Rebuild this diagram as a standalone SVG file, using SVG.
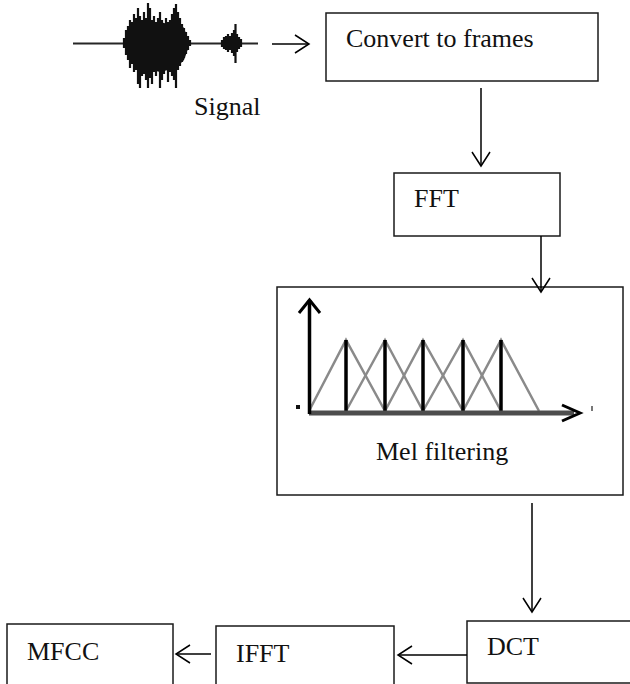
<svg xmlns="http://www.w3.org/2000/svg" width="630" height="684" viewBox="0 0 630 684">
  <defs>
    <style>
      .box { fill: #ffffff; stroke: #1a1a1a; stroke-width: 1.5; }
      .lbl { font-family: "Liberation Serif", "Times New Roman", serif; font-size: 26px; fill: #111111; }
      .conn { stroke: #000000; stroke-width: 1.5; fill: none; marker-end: url(#open); }
      .tri { stroke: #8a8a8a; stroke-width: 2.5; fill: none; }
      .peak { stroke: #000000; stroke-width: 3.5; }
      .wave { stroke: #111111; stroke-width: 2.2; fill: none; }
    </style>
    <marker id="open" viewBox="-16 -11 18 22" refX="0" refY="0" markerWidth="18" markerHeight="22" markerUnits="userSpaceOnUse" orient="auto">
      <path d="M-14,-9 L0,0 L-14,9" fill="none" stroke="#000" stroke-width="1.5"/>
    </marker>
  </defs>
  <rect width="630" height="684" fill="#ffffff"/>

  <g id="signal">
    <line x1="73" y1="43.5" x2="258" y2="43.5" stroke="#262626" stroke-width="2"/>
    <polygon fill="#0d0d0d" points="126,43 130,30 136,24 144,22 152,24 160,22 168,24 176,20 184,28 189,42 189,46 184,60 176,68 168,70 160,72 152,70 144,72 136,66 130,58 126,48"/>
    <path class="wave" d="M124,38V48 M126,30V55 M128,26V60 M130,20V68 M132,22V64 M134,14V72 M136,18V70 M138,8V84 M140,16V88 M142,20V76 M144,12V74 M146,18V80 M148,3V88 M150,8V78 M152,20V84 M154,16V72 M156,22V76 M158,18V70 M160,12V88 M162,20V80 M164,24V74 M166,18V70 M168,22V82 M170,20V72 M172,14V76 M174,8V80 M176,4V88 M178,12V70 M180,18V66 M182,24V62 M184,28V58 M186,32V54 M188,36V50 M190,40V46"/>
    <path class="wave" stroke-width="1.6" d="M222,40V47 M224,37V49 M226,36V50 M228,34V52 M230,36V50 M232,33V53 M234,30V56 M235.5,24V63 M237,34V52 M239,37V49 M241,39V47"/>
    <text class="lbl" x="194" y="115">Signal</text>
  </g>

  <g id="convert">
    <rect class="box" x="326" y="13" width="272" height="68"/>
    <text class="lbl" x="346" y="47">Convert to frames</text>
  </g>

  <g id="fft">
    <rect class="box" x="394" y="173" width="166" height="63"/>
    <text class="lbl" x="414" y="207">FFT</text>
  </g>

  <g id="mel">
    <rect class="box" x="277" y="287" width="346" height="208"/>
    <g id="mel-graph">
      <polyline class="tri" points="309,411 346,340 385,411"/>
      <polyline class="tri" points="346,411 385,340 423,411"/>
      <polyline class="tri" points="385,411 423,340 463,411"/>
      <polyline class="tri" points="423,411 463,340 501,411"/>
      <polyline class="tri" points="463,411 501,340 539,411"/>
      <line class="peak" x1="346" y1="340" x2="346" y2="413"/>
      <line class="peak" x1="385" y1="340" x2="385" y2="413"/>
      <line class="peak" x1="423" y1="340" x2="423" y2="413"/>
      <line class="peak" x1="463" y1="340" x2="463" y2="413"/>
      <line class="peak" x1="501" y1="340" x2="501" y2="413"/>
      <line x1="309" y1="413" x2="574" y2="413" stroke="#4d4d4d" stroke-width="5"/>
      <line x1="309.5" y1="300" x2="309.5" y2="414" stroke="#000" stroke-width="3.5"/>
      <polyline points="299,313 309.5,300 320,313" fill="none" stroke="#000" stroke-width="3"/>
      <path d="M562,405 L580,413 L562,421" fill="none" stroke="#000" stroke-width="3"/>
      <rect x="296" y="405" width="4" height="4" fill="#111"/>
      <rect x="591" y="406" width="2" height="5" fill="#777"/>
    </g>
    <text class="lbl" x="376" y="460">Mel filtering</text>
  </g>

  <g id="dct">
    <rect class="box" x="467" y="621" width="180" height="62"/>
    <text class="lbl" x="487" y="655">DCT</text>
  </g>

  <g id="ifft">
    <rect class="box" x="216" y="626" width="178" height="80"/>
    <text class="lbl" x="236" y="662">IFFT</text>
  </g>

  <g id="mfcc">
    <rect class="box" x="7" y="624" width="166" height="80"/>
    <text class="lbl" x="27" y="660">MFCC</text>
  </g>

  <g id="connectors">
    <line class="conn" x1="272" y1="44" x2="309" y2="44"/>
    <line class="conn" x1="481" y1="88" x2="481" y2="166"/>
    <line class="conn" x1="541" y1="236" x2="541" y2="292"/>
    <line class="conn" x1="532" y1="503" x2="532" y2="612"/>
    <line class="conn" x1="467" y1="655" x2="398" y2="655"/>
    <line class="conn" x1="211" y1="654" x2="176" y2="654"/>
  </g>
</svg>
